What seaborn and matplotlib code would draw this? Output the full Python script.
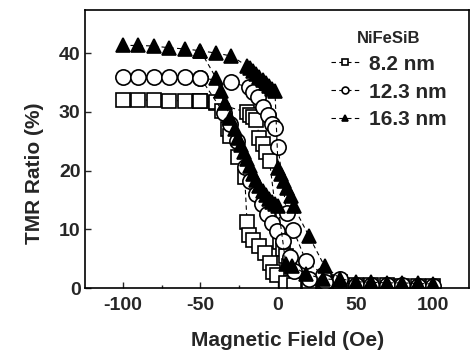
import matplotlib
matplotlib.use("Agg")
import matplotlib.pyplot as plt
import seaborn as sns
import pandas as pd
from matplotlib.ticker import MultipleLocator

sns.set_style("ticks")
plt.rcParams['font.family'] = ['Liberation Sans', 'DejaVu Sans']
plt.rcParams['font.weight'] = 'bold'
plt.rcParams['axes.unicode_minus'] = False

# ---------------- data ----------------
series_labels = ["8.2 nm", "12.3 nm", "16.3 nm"]

# 8.2 nm (squares)
sq_right_field = [-100, -90, -80, -70, -60, -50, -40, -20, -18, -16, -14, -12, -10, -7.5, -5.5,
                  1, 3, 5, 7, 9.5, 20, 30, 40, 50, 60, 70, 80, 90, 100]
sq_right_tmr = [32.0, 32.0, 32.0, 31.9, 31.9, 31.8, 31.5, 29.9, 29.5, 29.2, 28.6, 25.6, 24.6, 23.2, 21.6,
                7.8, 6.6, 5.4, 3.8, 1.6, 1.0, 1.0, 1.0, 0.6, 0.5, 0.5, 0.4, 0.4, 0.4]
sq_left_field = [-50, -40, -36, -32, -31, -25.5, -21.5, -20, -19, -16, -12, -8.5, -5, -3, -1,
                 5, 10, 20]
sq_left_tmr = [31.8, 31.6, 30.2, 27.0, 25.9, 22.4, 19.0, 11.3, 9.0, 8.2, 7.1, 5.9, 4.2, 2.8, 2.2,
               0.8, 0.6, 0.5]

# 12.3 nm (circles)
ci_right_field = [-100, -90, -80, -70, -60, -50, -30, -19, -16, -13, -9.6, -6.4, -4, -2, 0,
                  5.5, 9.8, 18, 29, 40, 50, 60, 70, 80, 90, 100]
ci_right_tmr = [36.0, 36.0, 36.0, 36.0, 36.0, 35.8, 35.0, 34.2, 33.4, 32.5, 30.8, 29.5, 28.0, 27.2, 24.0,
                12.8, 9.9, 4.6, 2.3, 1.6, 0.6, 0.5, 0.5, 0.5, 0.4, 0.4]
ci_left_field = [-50, -35, -31, -26.5, -21, -18, -14, -10.5, -7.3, -4, -1,
                 3, 7.5, 10, 20, 30]
ci_left_tmr = [35.8, 29.8, 28.0, 25.0, 20.7, 18.3, 16.0, 14.3, 12.6, 11.1, 9.8,
               8.0, 5.3, 3.0, 1.5, 1.0]

# 16.3 nm (filled triangles)
tr_right_field = [-100, -90, -80, -70, -60, -50, -40, -30, -20, -18, -16, -14, -12, -10, -8, -6, -4, -2,
                  0, 2, 4, 6, 8, 10, 20, 30, 40, 50, 60, 70, 80, 90, 100]
tr_right_tmr = [41.3, 41.3, 41.2, 40.9, 40.7, 40.4, 40.0, 39.5, 37.8, 37.4, 37.0, 36.5, 36.0, 35.4, 34.9, 34.4, 33.9, 33.5,
                20.5, 19.4, 18.3, 17.0, 15.6, 13.9, 8.8, 3.7, 1.6, 1.1, 1.0, 0.9, 0.9, 0.8, 0.7]
tr_left_field = [-50, -40, -37, -34, -31, -28, -26, -24, -22, -20, -18, -16, -14, -12, -10, -8, -6, -4, -2, 0,
                 5, 9, 18, 29, 40]
tr_left_tmr = [40.4, 35.8, 33.5, 31.5, 29.0, 27.0, 25.6, 24.4, 23.1, 22.0, 20.8, 19.5, 18.4, 17.4, 16.5, 15.8, 15.2, 14.7, 14.3, 14.0,
               4.1, 3.8, 2.4, 1.6, 1.4]

x_ticks = [-100, -50, 0, 50, 100]
y_ticks = [0, 10, 20, 30, 40]

# ---------------- figure ----------------
fig = plt.figure(figsize=(4.72, 3.51), dpi=100)
ax = fig.add_axes([0.181, 0.179, 0.813, 0.792])

styles = [
    dict(marker='s', markersize=9.5, markerfacecolor='white'),
    dict(marker='o', markersize=11, markerfacecolor='white'),
    dict(marker='^', markersize=10.5, markerfacecolor='black'),
]
branches = [
    [(sq_right_field, sq_right_tmr), (sq_left_field, sq_left_tmr)],
    [(ci_right_field, ci_right_tmr), (ci_left_field, ci_left_tmr)],
    [(tr_right_field, tr_right_tmr), (tr_left_field, tr_left_tmr)],
]

for label, st, brs in zip(series_labels, styles, branches):
    for i, (fx, ty) in enumerate(brs):
        df = pd.DataFrame({"field": fx, "tmr": ty})
        sns.lineplot(data=df, x="field", y="tmr", ax=ax, sort=False, estimator=None,
                     color='black', linewidth=0.8, linestyle=(0, (4, 3)),
                     markeredgecolor='black', markeredgewidth=1.2,
                     label=label if i == 0 else '_nolegend_', legend=False, **st)

ax.set_xlim(-124, 123)
ax.set_ylim(0, 47.3)
ax.set_xticks(x_ticks)
ax.set_yticks(y_ticks)
ax.xaxis.set_minor_locator(MultipleLocator(25))
ax.tick_params(axis='both', which='major', direction='in', length=4, width=1, labelsize=14)
ax.tick_params(axis='x', which='minor', direction='in', length=2.5, width=1)
ax.tick_params(axis='x', which='major', pad=6)
ax.tick_params(axis='y', which='major', pad=3.5)
for lab in ax.get_xticklabels() + ax.get_yticklabels():
    lab.set_fontweight('bold')
for sp in ax.spines.values():
    sp.set_linewidth(1.2)
    sp.set_color('black')

ax.set_xlabel("Magnetic Field (Oe)", fontsize=15, fontweight='bold')
ax.set_ylabel("TMR Ratio (%)", fontsize=15, fontweight='bold')
ax.xaxis.set_label_coords(0.526, -0.155)
ax.yaxis.set_label_coords(-0.107, 0.414)

handles, labels = ax.get_legend_handles_labels()
leg = ax.legend(handles, labels, title="NiFeSiB", frameon=False, loc='upper right',
                bbox_to_anchor=(0.975, 0.97), prop={'weight': 'bold', 'size': 15},
                title_fontproperties={'weight': 'bold', 'size': 12},
                handlelength=1.4, handletextpad=0.45, labelspacing=0.42, markerscale=0.45,
                borderaxespad=0.2)

fig.savefig("out.png", dpi=100)
